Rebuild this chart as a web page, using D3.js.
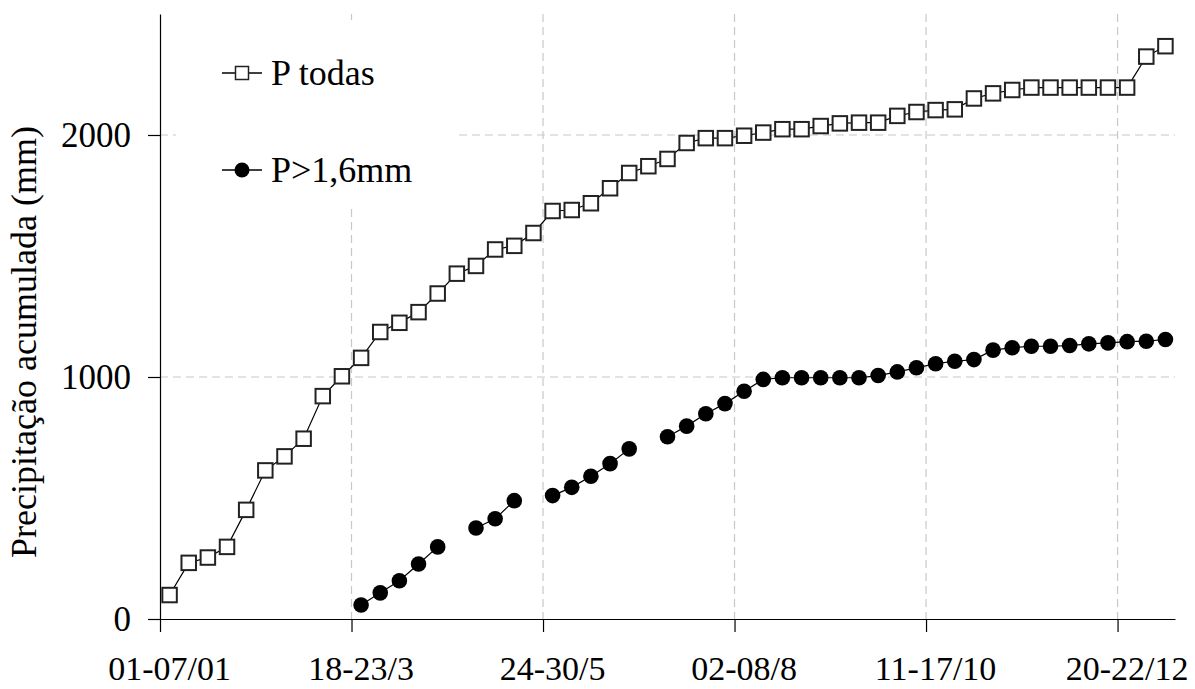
<!DOCTYPE html>
<html>
<head>
<meta charset="utf-8">
<script src="https://cdn.jsdelivr.net/npm/d3@7"></script>
<style>
	body { margin: 0; background: #fff; }
	svg text { font-family: "Liberation Serif", "Times New Roman", serif; fill: #000; }
</style>
</head>
<body>
<script>
// ************************************************************************************
// DATA
// ************************************************************************************
var weeks = d3.range(53)   // 53 weekly periods of the year

var tickLabels = ["01-07/01", "18-23/3", "24-30/5", "02-08/8", "11-17/10", "20-22/12"]
var tickEvery  = 10

var pTodas = [99, 232, 254, 298, 451, 614, 672, 745, 921, 1003,
              1079, 1186, 1224, 1268, 1345, 1427, 1459, 1527, 1542, 1595,
              1686, 1690, 1718, 1780, 1843, 1871, 1901, 1967, 1987, 1987,
              1997, 2010, 2024, 2024, 2037, 2048, 2051, 2051, 2079, 2095,
              2103, 2106, 2151, 2172, 2186, 2196, 2196, 2196, 2196, 2196,
              2196, 2324, 2367]

var pMaior = [null, null, null, null, null, null, null, null, null, null,
              58, 108, 158, 227, 298, null, 376, 414, 489, null,
              510, 544, 590, 642, 703, null, 753, 797, 848, 890,
              941, 990, 997, 997, 997, 997, 997, 1006, 1021, 1038,
              1055, 1065, 1072, 1111, 1121, 1127, 1127, 1130, 1137, 1141,
              1146, 1148, 1155]

var yTicks   = [0, 1000, 2000]
var yMax     = 2500
var yTitle   = "Precipitação acumulada (mm)"
var legNames = ["P todas", "P>1,6mm"]

// ************************************************************************************
// GLOBAL VARIABLES
// ************************************************************************************
var W = 1195, H = 689
  , mLeft = 160, mRight = 1175, mTop = 14, mBottom = 619
  , grey = "#c8c8c8"

var svg = d3.select("body").append("svg")
			.attr("width", W)
			.attr("height", H)

var x  = d3.scaleBand().domain(weeks).range([mLeft, mRight])
  , xl = d3.scaleLinear().domain([0, weeks.length]).range([mLeft, mRight])
  , y  = d3.scaleLinear().domain([0, yMax]).range([mBottom, mTop])
  , cx = function (i) { return x(i) + x.bandwidth() / 2 }

// ************************************************************************************
// GRID
// ************************************************************************************
var tickIdx = tickLabels.map(function (d, i) { return i * tickEvery })

svg.append("g").selectAll("line")
	.data(tickIdx.filter(function (d) { return d > 0 }))
	.join("line")
	.attr("x1", function (d) { return xl(d) }).attr("x2", function (d) { return xl(d) })
	.attr("y1", mTop).attr("y2", mBottom)
	.attr("stroke", grey).attr("stroke-width", 1.2).attr("stroke-dasharray", "8,5")

svg.append("g").selectAll("line")
	.data(yTicks.filter(function (d) { return d > 0 }))
	.join("line")
	.attr("x1", mLeft).attr("x2", mRight)
	.attr("y1", function (d) { return y(d) }).attr("y2", function (d) { return y(d) })
	.attr("stroke", grey).attr("stroke-width", 1.2).attr("stroke-dasharray", "8,5")

// legend background hides the grid behind it
svg.append("rect")
	.attr("x", 176).attr("y", 20)
	.attr("width", 279).attr("height", 185)
	.attr("fill", "#fff")

// ************************************************************************************
// AXES
// ************************************************************************************
var yAxis = svg.append("g")
	.attr("transform", "translate(" + mLeft + ",0)")
	.call(d3.axisLeft(y).tickValues(yTicks).tickFormat(d3.format("d"))
		.tickSize(12).tickSizeOuter(0).tickPadding(17))

yAxis.selectAll("text").style("font-size", "35px")

var xAxis = svg.append("g")
	.attr("transform", "translate(0," + mBottom + ")")
	.call(d3.axisBottom(xl).tickValues(tickIdx).tickSize(13).tickSizeOuter(0).tickFormat(""))

svg.append("g")
	.attr("transform", "translate(0," + mBottom + ")")
	.call(d3.axisBottom(x).tickValues(tickIdx).tickSize(0).tickPadding(37)
		.tickFormat(function (d, i) { return tickLabels[i] }))
	.call(function (g) { g.select(".domain").remove() })
	.selectAll("text").style("font-size", "34px")

svg.selectAll(".domain, .tick line").attr("stroke", "#000").attr("stroke-width", 1.2)

svg.append("text")
	.attr("transform", "translate(36,342) rotate(-90)")
	.attr("text-anchor", "middle")
	.style("font-size", "36px")
	.text(yTitle)

// ************************************************************************************
// SERIES
// ************************************************************************************
var line = d3.line()
	.defined(function (d) { return d != null })
	.x(function (d, i) { return cx(i) })
	.y(function (d) { return y(d) })

svg.append("path").datum(pTodas)
	.attr("d", line).attr("fill", "none").attr("stroke", "#000").attr("stroke-width", 1.2)

svg.append("path").datum(pMaior)
	.attr("d", line).attr("fill", "none").attr("stroke", "#000").attr("stroke-width", 1.2)

var sq = 14.5
svg.append("g").selectAll("rect")
	.data(pTodas)
	.join("rect")
	.attr("x", function (d, i) { return cx(i) - sq / 2 })
	.attr("y", function (d) { return y(d) - sq / 2 })
	.attr("width", sq).attr("height", sq)
	.attr("fill", "#fff").attr("stroke", "#222").attr("stroke-width", 2)

svg.append("g").selectAll("circle")
	.data(pMaior.map(function (d, i) { return {v: d, i: i} }).filter(function (d) { return d.v != null }))
	.join("circle")
	.attr("cx", function (d) { return cx(d.i) })
	.attr("cy", function (d) { return y(d.v) })
	.attr("r", 7.8)
	.attr("fill", "#000")

// ************************************************************************************
// LEGEND
// ************************************************************************************
var leg = svg.append("g")
var legY = [73, 170]

legY.forEach(function (ly, k) {
	leg.append("line")
		.attr("x1", 222).attr("x2", 262).attr("y1", ly).attr("y2", ly)
		.attr("stroke", "#000").attr("stroke-width", 1.3)
	if (k == 0)
		leg.append("rect")
			.attr("x", 242 - 6.5).attr("y", ly - 6.5).attr("width", 13).attr("height", 13)
			.attr("fill", "#fff").attr("stroke", "#222").attr("stroke-width", 1.5)
	else
		leg.append("circle").attr("cx", 242).attr("cy", ly).attr("r", 7.5).attr("fill", "#000")
	leg.append("text")
		.attr("x", 271).attr("y", ly + 12)
		.style("font-size", "36px")
		.text(legNames[k])
})
</script>
</body>
</html>
